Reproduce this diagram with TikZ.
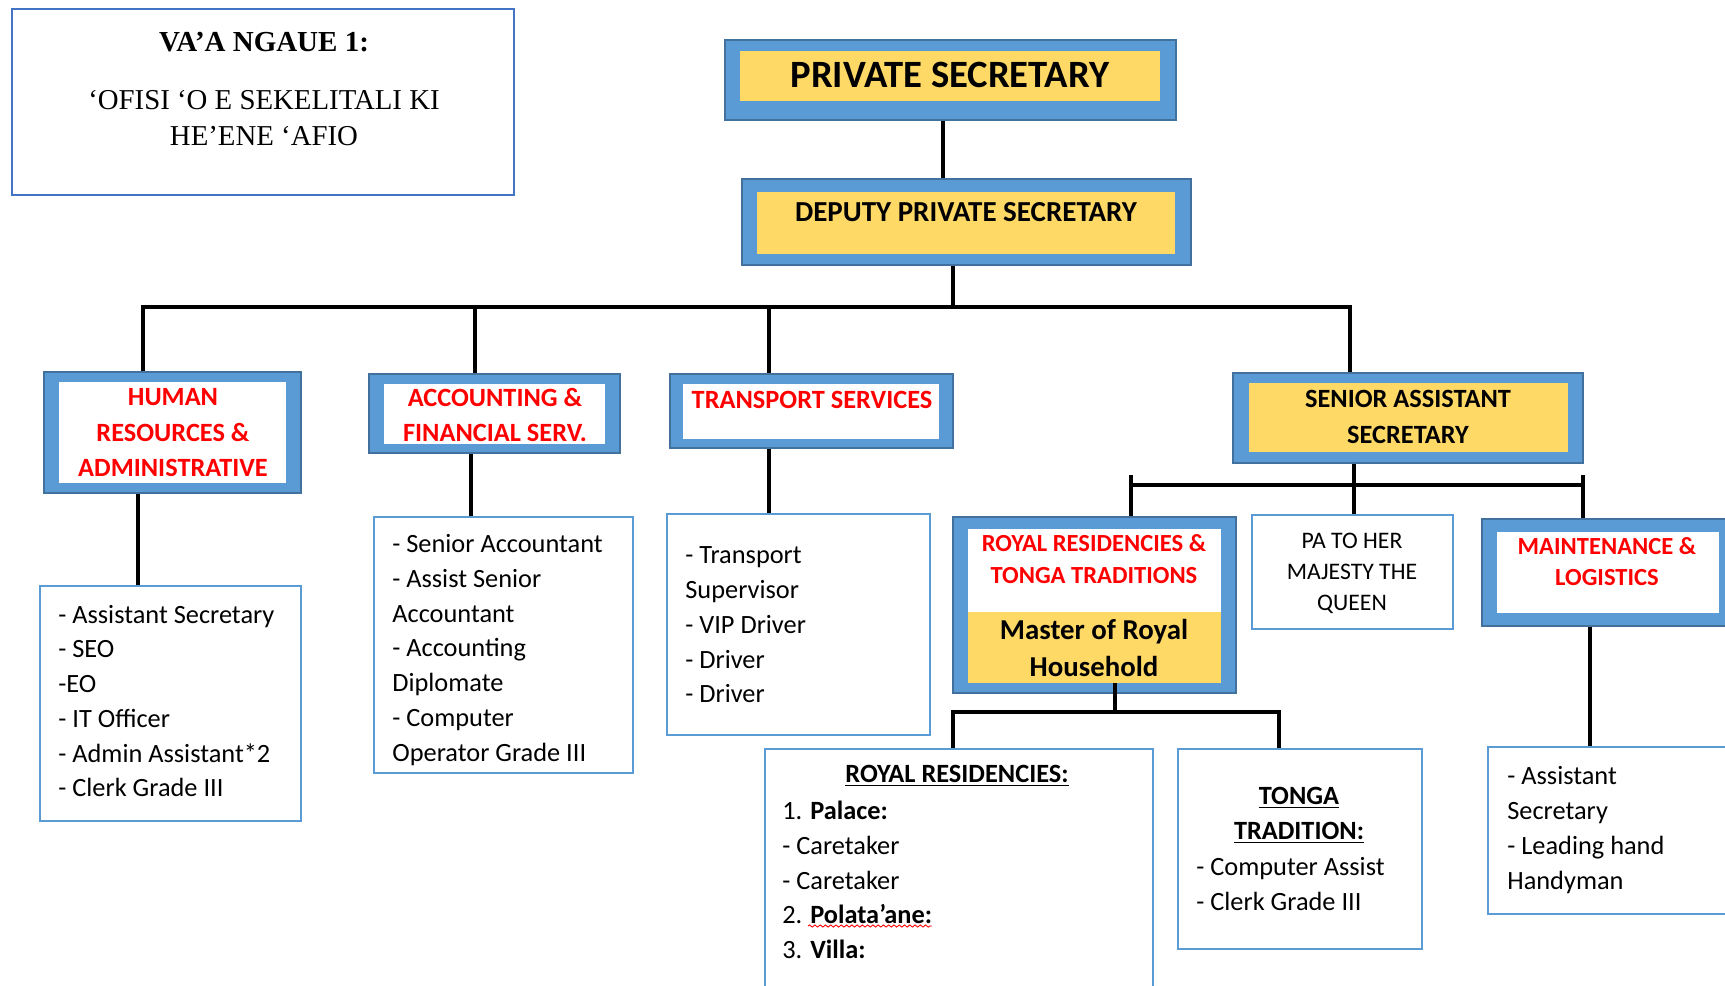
\documentclass[tikz,border=0pt]{standalone}
\usepackage{fontspec}
\setmainfont{Carlito}
\newfontfamily\titleFont{Liberation Serif}
\usepackage{tikz}
\usetikzlibrary{positioning, fit, decorations.pathmorphing}
\definecolor{officeBlue}{RGB}{91,155,213}
\definecolor{officeEdge}{RGB}{65,113,156}
\definecolor{officeYellow}{RGB}{255,217,102}
\definecolor{titleEdge}{RGB}{68,114,196}
\definecolor{headRed}{RGB}{255,0,0}
\tikzstyle{orgChart} = [x = 0.02cm, y = -0.02cm]
\tikzstyle{outerFrame} = [draw=officeEdge, fill=officeBlue, line width=1.1pt, inner sep=0pt]
\tikzstyle{whiteFrame} = [fill=white, inner sep=0pt]
\tikzstyle{yellowFrame} = [fill=officeYellow, inner sep=0pt]
\tikzstyle{listFrame} = [draw=officeBlue, fill=white, line width=1pt, inner sep=0pt]
\tikzstyle{titleFrame} = [draw=titleEdge, fill=white, line width=1.4pt, inner sep=0pt]
\tikzstyle{link} = [black, line width=1.9pt]
\tikzstyle{titleHead} = [font=\titleFont\bfseries\fontsize{16.5pt}{20pt}\selectfont, inner sep=0pt]
\tikzstyle{titleText} = [font=\titleFont\fontsize{16.4pt}{20.5pt}\selectfont, align=center, inner sep=0pt]
\tikzstyle{bossText} = [align=center, inner sep=0pt]
\tikzstyle{redHead} = [font=\bfseries\fontsize{15pt}{20.2pt}\selectfont, text=headRed, align=center, inner sep=0pt]
\tikzstyle{smallRedHead} = [font=\bfseries\fontsize{14pt}{18pt}\selectfont, text=headRed, align=center, inner sep=0pt]
\tikzstyle{listText} = [font=\fontsize{15pt}{19.8pt}\selectfont, align=left, anchor=west, inner sep=0pt]
\tikzstyle{listHead} = [font=\bfseries\fontsize{15pt}{19.9pt}\selectfont, align=center, inner sep=0pt]
\tikzstyle{spellMark} = [red, line width=0.5pt, decorate, decoration={snake, amplitude=0.6pt, segment length=3pt}]
\newcommand{\yellowFramed}[9]{
  \node [outerFrame, fit={(#2,#3) (#4,#5)}] (#1) {};
  \node [yellowFrame, fit={(#6,#7) (#8,#9)}] (#1Inner) {};
}
\newcommand{\whiteFramed}[9]{
  \node [outerFrame, fit={(#2,#3) (#4,#5)}] (#1) {};
  \node [whiteFrame, fit={(#6,#7) (#8,#9)}] (#1Inner) {};
}
\newcommand{\listBox}[5]{\node [listFrame, fit={(#2,#3) (#4,#5)}] (#1) {};}
\newcommand{\dropLink}[3]{\draw [link] (#1.south -| #3) -- (#2.north -| #3);}

\begin{document}
\begin{tikzpicture}[orgChart]
  \useasboundingbox (0,0) rectangle (1725,985);

  % title box
  \node [titleFrame, fit={(12,9) (514,195)}] (title) {};
  \node [titleHead] (titleTop) at (264,42) {VA’A NGAUE 1:};
  \node [titleText] (titleName) at (264,118) {‘OFISI ‘O E SEKELITALI KI\\HE’ENE ‘AFIO};

  % top of the chart
  \yellowFramed{ps}{725}{40}{1176}{120}{740}{51}{1160}{101}
  \node [bossText, font=\bfseries\fontsize{22pt}{26pt}\selectfont] (psText) at (950,75) {PRIVATE SECRETARY};
  \yellowFramed{dps}{742}{179}{1191}{265}{757}{192}{1175}{254}
  \node [bossText, font=\bfseries\fontsize{16.5pt}{20pt}\selectfont] (dpsText) at (966,212) {DEPUTY PRIVATE SECRETARY};

  % divisions
  \whiteFramed{hr}{44}{372}{301}{493}{59}{382}{286}{483}
  \node [redHead] (hrText) at (173,433) {HUMAN\\RESOURCES \&\\ADMINISTRATIVE};
  \whiteFramed{acc}{369}{374}{620}{453}{384}{384}{605}{444}
  \node [redHead] (accText) at (495,415) {ACCOUNTING \&\\FINANCIAL SERV.};
  \whiteFramed{trans}{670}{374}{953}{448}{683}{384}{939}{439}
  \node [redHead] (transText) at (812,400) {TRANSPORT SERVICES};
  \yellowFramed{sas}{1233}{373}{1583}{463}{1249}{383}{1568}{452}
  \node [redHead, text=black] (sasText) at (1408,417) {SENIOR ASSISTANT\\SECRETARY};

  % under the senior assistant secretary
  \whiteFramed{rrtt}{953}{517}{1236}{693}{968}{529}{1221}{612}
  \node [yellowFrame, fit={(968,612) (1221,683)}] (rrYellow) {};
  \node [smallRedHead] (rrttText) at (1094,559) {ROYAL RESIDENCIES \&\\TONGA TRADITIONS};
  \node [bossText, font=\bfseries\fontsize{16.4pt}{21.6pt}\selectfont] (masterText) at (1094,648) {Master of Royal\\Household};
  \listBox{pa}{1252}{515}{1453}{629}
  \node [align=center, inner sep=0pt, font=\fontsize{13.5pt}{17.6pt}\selectfont] (paText) at (1352,573) {PA TO HER\\MAJESTY THE\\QUEEN};
  \whiteFramed{maint}{1482}{519}{1740}{626}{1497}{532}{1719}{613}
  \node [smallRedHead, font=\bfseries\fontsize{14pt}{17.6pt}\selectfont] (maintText) at (1607,562) {MAINTENANCE \&\\LOGISTICS};

  % staff lists
  \listBox{hrList}{40}{586}{301}{821}
  \node [listText] (hrStaff) at (58,701) {- Assistant Secretary\\- SEO\\-EO\\- IT Officer\\- Admin Assistant*2\\- Clerk Grade III};
  \listBox{accList}{374}{517}{633}{773}
  \node [listText] (accStaff) at (392,650) {- Senior Accountant\\- Assist Senior\\Accountant\\- Accounting\\Diplomate\\- Computer\\Operator Grade III};
  \listBox{transList}{667}{514}{930}{735}
  \node [listText] (transStaff) at (685,625) {- Transport\\Supervisor\\- VIP Driver\\- Driver\\- Driver};
  \listBox{rrList}{765}{749}{1153}{1000}
  \node [listHead] (rrHead) at (957,776) {\underline{ROYAL RESIDENCIES:}};
  \node [listText] (rrStaff) at (782,880) {1. \textbf{Palace:}\\- Caretaker\\- Caretaker\\2. \textbf{Polata’ane:}\\3. \textbf{Villa:}};
  \draw [spellMark] (808,926) -- (932,926);
  \listBox{tongaList}{1178}{749}{1422}{949}
  \node [listHead] (tongaHead) at (1299,815) {\underline{TONGA}\\\underline{TRADITION:}};
  \node [listText, font=\fontsize{15pt}{19.4pt}\selectfont] (tongaStaff) at (1196,884) {- Computer Assist\\- Clerk Grade III};
  \listBox{maintList}{1488}{747}{1740}{914}
  \node [listText] (maintStaff) at (1507,830) {- Assistant\\Secretary\\- Leading hand\\Handyman};

  % connectors
  \coordinate (psDrop) at (943,150);
  \dropLink{ps}{dps}{psDrop}
  \coordinate (busHR) at (143,307);
  \coordinate (busAcc) at (475,307);
  \coordinate (busTrans) at (769,307);
  \coordinate (busDps) at (953,307);
  \coordinate (busSas) at (1350,307);
  \draw [link] (dps.south -| busDps) -- (busDps);
  \draw [link] (hr.north -| busHR) -- (busHR) -- (busSas) -- (sas.north -| busSas);
  \draw [link] (busAcc) -- (acc.north -| busAcc);
  \draw [link] (busTrans) -- (trans.north -| busTrans);

  \coordinate (hrDrop) at (138,540);
  \coordinate (accDrop) at (471,480);
  \coordinate (transDrop) at (769,480);
  \dropLink{hr}{hrList}{hrDrop}
  \dropLink{acc}{accList}{accDrop}
  \dropLink{trans}{transList}{transDrop}

  \coordinate (sasDrop) at (1354,490);
  \dropLink{sas}{pa}{sasDrop}
  \coordinate (subL) at (1131,485);
  \coordinate (subR) at (1583,485);
  \coordinate (subLTop) at (1131,475);
  \coordinate (subRTop) at (1583,475);
  \draw [link] (subL) -- (subR);
  \draw [link] (subLTop) -- (rrtt.north -| subLTop);
  \draw [link] (subRTop) -- (maint.north -| subRTop);

  \coordinate (rrDrop) at (1115,712);
  \coordinate (bus2L) at (953,712);
  \coordinate (bus2R) at (1279,712);
  \draw [link] (rrYellow.south -| rrDrop) -- (rrDrop);
  \draw [link] (rrList.north -| bus2L) -- (bus2L) -- (bus2R) -- (tongaList.north -| bus2R);

  \coordinate (maintDrop) at (1590,690);
  \dropLink{maint}{maintList}{maintDrop}
\end{tikzpicture}
\end{document}
